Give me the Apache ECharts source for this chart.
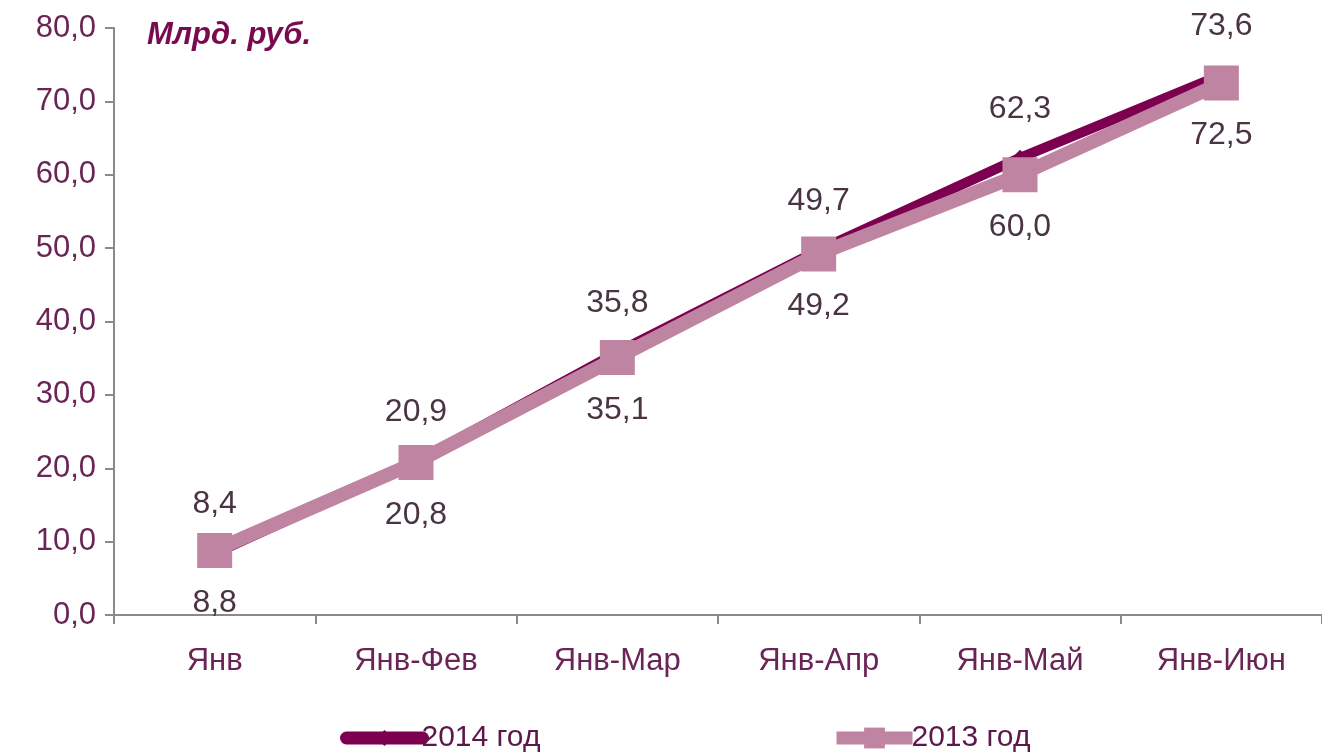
<!DOCTYPE html>
<html><head><meta charset="utf-8">
<script src="https://cdn.jsdelivr.net/npm/echarts@6/dist/echarts.min.js"></script>
<style>html,body{margin:0;padding:0;background:#fff}#c{width:1322px;height:752px}</style>
</head><body><div id="c"></div>
<script>
const categories = ['Янв','Янв-Фев','Янв-Мар','Янв-Апр','Янв-Май','Янв-Июн'];
const values2014 = [8.4, 20.9, 35.8, 49.7, 62.3, 73.6];
const values2013 = [8.8, 20.8, 35.1, 49.2, 60.0, 72.5];
const seriesNames = ['2014 год','2013 год'];
const unitLabel = 'Млрд. руб.';

const fmt = v => v.toFixed(1).replace('.', ',');
const chart = echarts.init(document.getElementById('c'));
const txt = '#4a3444';
chart.setOption({
  animation:false,
  textStyle:{fontFamily:'Liberation Sans, Arial, sans-serif'},
  grid:{left:114, right:-7, top:28, bottom:137},
  graphic:[{type:'text', left:147, top:20, style:{text:unitLabel, fill:'#7a0a4e', font:'italic bold 31px Liberation Sans, Arial'}}],
  legend:[
    {data:[seriesNames[0]], left:335, top:718, itemWidth:76, itemHeight:20, itemGap:0,
     lineStyle:{width:13, cap:'round'},
     textStyle:{fontSize:30, color:'#5c1848', padding:[0,0,0,-6]}},
    {data:[seriesNames[1]], left:825, top:718, itemWidth:76, itemHeight:26, itemGap:0,
     lineStyle:{width:13},
     textStyle:{fontSize:30, color:'#5c1848', padding:[0,0,0,-6]}}
  ],
  xAxis:{type:'category', data:categories, boundaryGap:true,
    axisLine:{lineStyle:{color:'#8a8a8a', width:2}},
    axisTick:{show:true, length:9, lineStyle:{color:'#8a8a8a', width:2}},
    axisLabel:{fontSize:31, color:'#6a2455', margin:31}},
  yAxis:{type:'value', min:0, max:80, interval:10,
    axisLine:{show:true, lineStyle:{color:'#8a8a8a', width:2}},
    axisTick:{show:true, length:9, lineStyle:{color:'#8a8a8a', width:2}},
    splitLine:{show:false},
    axisLabel:{fontSize:31, color:'#6a2455', margin:18, formatter:v=>fmt(v)}},
  series:[
    {name:seriesNames[0], type:'line', data:values2014, symbol:'diamond', symbolSize:16,
     lineStyle:{color:'#7d0050', width:10}, itemStyle:{color:'#7d0050'},
     label:{show:true, position:'top', distance:25, fontSize:32, color:txt, formatter:p=>fmt(p.value)}},
    {name:seriesNames[1], type:'line', data:values2013, symbol:'rect', symbolSize:35,
     lineStyle:{color:'#bf84a2', width:14}, itemStyle:{color:'#bf84a2'},
     label:{show:true, position:'bottom', distance:19, fontSize:32, color:txt, formatter:p=>fmt(p.value)}}
  ]
});
</script></body></html>
